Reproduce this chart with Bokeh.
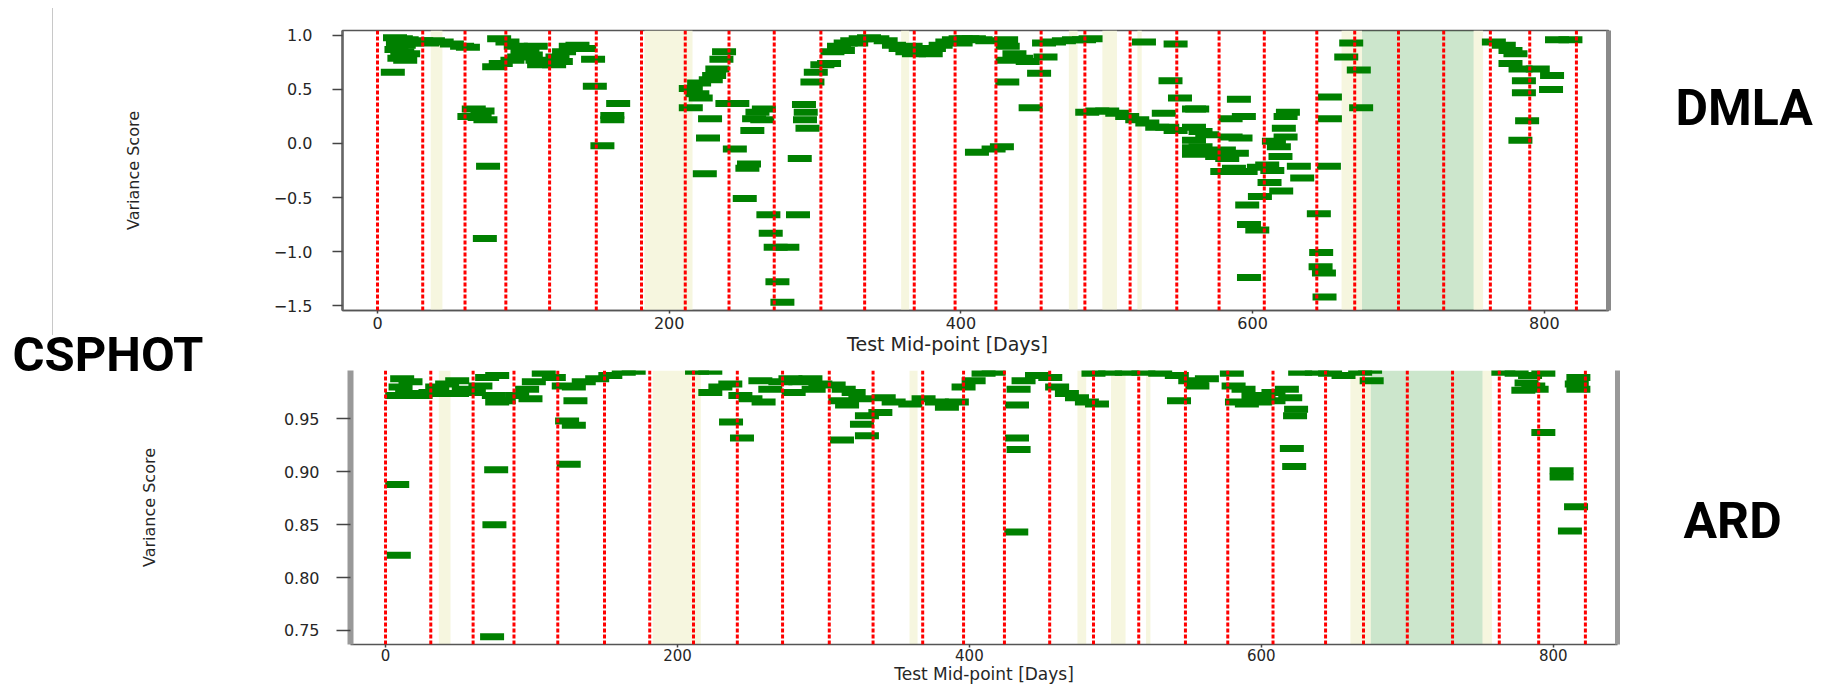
from bokeh.plotting import figure
from bokeh.layouts import column, row
from bokeh.models import (Span, BoxAnnotation, FixedTicker, LinearAxis, Spacer,
                          CustomJSTickFormatter, ColumnDataSource, Range1d)
from bokeh.core.properties import value
from bokeh.embed import file_html
from bokeh.resources import INLINE

# ---------------- data ----------------
x_ticks = [0, 200, 400, 600, 800]
dmla_ticks = [-1.5, -1.0, -0.5, 0.0, 0.5, 1.0]
ard_ticks = [0.75, 0.80, 0.85, 0.90, 0.95]

retrain_days = [0, 31, 60, 88, 118, 150, 181, 211, 241, 272, 304, 334, 368, 396,
                424, 455, 485, 516, 548, 577, 608, 644, 670, 700, 731, 763, 790, 822]
beige_start = [36.5, 183, 359, 474, 497, 521, 661, 751.5]
beige_end = [44.5, 216, 364.5, 480, 507, 524, 675, 758]
green_start = [675]
green_end = [751.5]

dmla_day = [
    12, 16, 20, 14, 18, 13, 17, 21, 15, 19, 22, 10.5,
    30, 34, 38, 44, 51, 58, 62,
    66, 72, 63, 74, 70, 75.8, 73.6,
    83.4, 89.1, 94.8, 99.4, 105.1, 109.7, 114.2, 80, 84.5, 92.5, 97.1, 102.8, 108.5,
    110.8, 118.8, 123.4, 127.9, 132.5, 137.1, 141.7, 125.7, 121.1,
    147.8, 149, 165, 161, 161, 154.2,
    237.6, 235.8, 233, 230.8, 228.5, 220.5, 214.8, 219.3, 221.6, 214.8, 239.9, 246.7,
    228, 226.6, 224.4, 245, 253.6, 251.8, 254.7, 260.5, 258.2, 257,
    268, 288.3, 269.6, 273, 281, 274.2, 277.6, 264.9, 263.8, 289.5, 292.4, 293.6,
    293.1, 294.8, 298.2, 300.5, 305, 309.6,
    311.9, 316.4, 321, 325.5, 331.3, 337, 342.7, 348.4, 354.1, 358.7, 363.3, 367.8,
    372.4, 377, 381.5, 386.1, 390.7, 395.2, 399.8, 404.4, 408.9, 413.5, 418.1,
    319.1, 328.2, 365.5, 379.3, 399.8,
    411, 422.4, 428.1, 431.8, 431, 432.1, 436.7, 441.3, 445.8, 432, 453.6, 447.8, 458,
    457, 463.8, 470.6, 477.5, 484.4, 488.9,
    486.6, 493.5, 500.3, 507.2, 514, 520.9, 527.8, 534.6, 541.5, 547.2, 539.1,
    525.5, 547.2, 543.7, 550.2, 559.8, 559.8, 559.8,
    590.6, 562, 624.2, 622.6, 584.9, 594,
    559.8, 564.3, 568.9, 559.8, 564.3, 573.5, 580.3, 584.9, 591.7, 589.2, 582.6, 575.7,
    621.4, 622.6, 614.6, 618, 619.1,
    579.2, 587.2, 595.2, 604.3, 613.5, 610,
    631.7, 652.3, 634, 611.6, 619.6, 605, 596.3, 597.5, 603.2, 597.5,
    645.4, 647, 646.6, 648.9, 649.3,
    653, 653, 667.6, 664.2, 672.8, 674.4,
    765.4, 772.2, 776.8, 780.2, 776.8, 783.7, 795.5, 805.3, 786, 804.6, 786, 788.2,
    783.6, 808.7, 817.9,
]
dmla_score = [
    0.98, 0.97, 0.96, 0.93, 0.91, 0.87, 0.85, 0.83, 0.79, 0.77, 0.93, 0.66,
    0.95, 0.93, 0.95, 0.94, 0.92, 0.90, 0.89,
    0.32, 0.30, 0.25, 0.22, 0.24, -0.21, -0.88,
    0.97, 0.94, 0.90, 0.85, 0.82, 0.77, 0.74, 0.71, 0.74, 0.77, 0.80, 0.86, 0.90,
    0.73, 0.76, 0.80, 0.85, 0.90, 0.91, 0.88, 0.76, 0.73,
    0.78, 0.53, 0.37, 0.26, 0.22, -0.02,
    0.85, 0.78, 0.69, 0.63, 0.59, 0.56, 0.51, 0.46, 0.42, 0.33, 0.37, 0.37,
    0.23, 0.05, -0.28, -0.05, -0.23, -0.51, -0.19, 0.29, 0.23, 0.12,
    -0.66, -0.66, -0.83, -0.96, -0.96, -1.28, -1.47, 0.32, 0.22, -0.14, 0.36, 0.29,
    0.22, 0.14, 0.57, 0.66, 0.73, 0.74,
    0.85, 0.90, 0.93, 0.95, 0.97, 0.98, 0.97, 0.95, 0.91, 0.88, 0.85, 0.83,
    0.84, 0.86, 0.88, 0.91, 0.94, 0.96, 0.97, 0.97, 0.97, 0.96, 0.95,
    0.86, 0.93, 0.90, 0.83, 0.93,
    -0.08, -0.05, -0.03, 0.57, 0.96, 0.90, 0.83, 0.79, 0.76, 0.77, 0.65, 0.33, 0.80,
    0.93, 0.94, 0.95, 0.96, 0.96, 0.97,
    0.29, 0.30, 0.30, 0.28, 0.25, 0.22, 0.19, 0.15, 0.15, 0.12, 0.28,
    0.94, 0.92, 0.58, 0.42, 0.32, -0.04, -0.10,
    0.41, 0.32, 0.29, 0.25, 0.23, 0.25,
    0.15, 0.11, 0.08, 0.03, -0.03, -0.08, -0.06, 0.06, 0.05, -0.09, -0.14, -0.12,
    0.14, 0.06, 0.02, -0.03, -0.12,
    -0.26, -0.23, -0.26, -0.22, -0.25, -0.20,
    -0.21, -0.21, -0.32, -0.36, -0.44, -0.49, -0.57, -0.75, -0.80, -1.24,
    -0.65, -1.01, -1.14, -1.20, -1.42,
    0.43, 0.23, 0.93, 0.80, 0.68, 0.33,
    0.94, 0.91, 0.86, 0.83, 0.74, 0.69, 0.69, 0.63, 0.58, 0.50, 0.47, 0.21,
    0.03, 0.96, 0.96,
]

ard_day = [
    11.4, 17.1, 10.3, 14.8, 8, 24, 30.8, 35.4, 42.2, 49.1, 53.6, 60.5, 65, 69.6, 76.5, 49, 40,
    74.2, 81, 90.2, 97, 101.6, 99.3, 76.5,
    108.4, 115.3, 122.1, 129, 135.8, 145, 154, 163.2, 170,
    130.1, 124.4, 129, 125.5, 75.8, 8, 74.6, 9.1, 73,
    213.4, 222.5, 222.5, 229.4, 236.2, 243.1, 250, 256.8, 259, 236.7, 244.2,
    263.6, 270.5, 277.4, 284.2, 291.1, 297.9, 293.3, 279.6,
    307, 313.9, 320.7, 311.6, 316.2, 325.3, 339, 329.8, 326.4, 329.8, 312.7,
    341.3, 348.1, 359.5, 368.6, 377.7, 384.6, 391.4,
    396, 402.9, 409.7, 416.6, 433.7, 432.6, 437.1, 446.3, 455.4,
    460.1, 466.8, 473.7, 480.5, 487.4, 432.6, 433.7, 432.1,
    485, 496.4, 507.8, 519.2, 530.7, 542.1, 551.3, 543.6, 556.2,
    555.8, 562.7, 579.8, 581, 587.8, 594.6, 601.5, 608.3, 617.5, 619.8, 583.3, 590.1,
    599.2, 608.3, 623.8, 623.1, 620.9, 622.5,
    626.6, 638, 647.1, 656.3, 667.7, 674.5, 675.6,
    765.8, 774.9, 784.1, 793.2, 786.3, 779.5, 788.6, 781.7, 793.2, 805.7, 805.7,
    817.2, 817.2, 816.1, 815.6, 811.4,
]
ard_score = [
    0.988, 0.985, 0.980, 0.974, 0.972, 0.972, 0.975, 0.980, 0.983, 0.986, 0.978, 0.975,
    0.981, 0.989, 0.991, 0.974, 0.974,
    0.972, 0.967, 0.972, 0.978, 0.985, 0.969, 0.966,
    0.993, 0.989, 0.981, 0.980, 0.985, 0.988, 0.991, 0.994, 0.995,
    0.967, 0.948, 0.944, 0.907, 0.902, 0.888, 0.850, 0.821, 0.744,
    0.995, 0.995, 0.975, 0.980, 0.983, 0.972, 0.969, 0.986, 0.966, 0.947, 0.932,
    0.978, 0.985, 0.988, 0.985, 0.988, 0.983, 0.978, 0.975,
    0.982, 0.978, 0.975, 0.967, 0.963, 0.969, 0.956, 0.953, 0.945, 0.934, 0.930,
    0.970, 0.966, 0.964, 0.969, 0.966, 0.961, 0.966,
    0.980, 0.986, 0.993, 0.994, 0.978, 0.963, 0.986, 0.991, 0.989,
    0.980, 0.974, 0.970, 0.966, 0.964, 0.932, 0.921, 0.843,
    0.993, 0.994, 0.994, 0.994, 0.993, 0.991, 0.986, 0.967, 0.981,
    0.985, 0.988, 0.993, 0.981, 0.978, 0.972, 0.969, 0.975, 0.978, 0.970, 0.966, 0.964,
    0.966, 0.967, 0.959, 0.953, 0.922, 0.905,
    0.994, 0.994, 0.993, 0.991, 0.994, 0.996, 0.986,
    0.994, 0.993, 0.991, 0.993, 0.981, 0.977, 0.978, 0.984, 0.937, 0.901, 0.895,
    0.989, 0.978, 0.983, 0.867, 0.844,
]

panel_names = ["DMLA", "ARD"]
panel_name_pos = [0.328, 0.8535]
left_name = "CSPHOT"
x_title = "Test Mid-point [Days]"
y_title = "Variance Score"

FONT = "DejaVu Sans"
TXT = "#262626"
W = 1825


def style_common(p):
    p.xgrid.visible = False
    p.ygrid.visible = False
    p.background_fill_color = "white"
    p.xaxis.ticker = FixedTicker(ticks=x_ticks)
    p.axis.minor_tick_line_color = None
    p.axis.major_label_text_font = FONT
    p.axis.major_label_text_font_size = "16px"
    p.axis.major_label_text_color = TXT
    p.axis.major_tick_line_color = "#444444"
    p.axis.major_tick_line_width = 1.5
    p.axis.major_tick_in = 0
    p.xaxis.major_tick_out = 3
    p.yaxis.axis_label = y_title
    p.yaxis.axis_label_text_font = FONT
    p.yaxis.axis_label_text_font_size = "16px"
    p.yaxis.axis_label_text_font_style = "normal"
    p.yaxis.axis_label_text_color = TXT
    for a, b in zip(beige_start, beige_end):
        p.add_layout(BoxAnnotation(left=a, right=b, fill_color="#f5f5dc", fill_alpha=0.9,
                                   line_color=None, level="underlay"))
    for a, b in zip(green_start, green_end):
        p.add_layout(BoxAnnotation(left=a, right=b, fill_color="green", fill_alpha=0.2,
                                   line_color=None, level="underlay"))


def add_data(p, xs, ys):
    src = ColumnDataSource(dict(x=xs, y=ys))
    p.rect("x", "y", width=24, height=7, width_units="screen", height_units="screen",
           source=src, fill_color="green", line_color=None)
    for d in retrain_days:
        p.add_layout(Span(location=d, dimension="height", line_color="red",
                          line_width=3, line_dash="4 2"))


def name_axis(p, name, pos, standoff, line_color):
    ax = LinearAxis(ticker=FixedTicker(ticks=[pos]),
                    formatter=CustomJSTickFormatter(code="return '%s';" % name),
                    axis_line_color=line_color, axis_line_width=5,
                    major_tick_line_color=None, minor_tick_line_color=None,
                    major_tick_out=0, major_tick_in=0,
                    major_label_standoff=standoff, major_label_text_font="Roboto",
                    major_label_text_font_size="50px", major_label_text_font_style="bold",
                    major_label_text_color="black")
    p.add_layout(ax, "right")


# ---------------- top panel (DMLA) ----------------
top = figure(width=W - 53, height=335, x_range=Range1d(-24, 844), y_range=Range1d(-1.546, 1.046),
             output_backend="svg", toolbar_location=None,
             min_border_left=289, min_border_right=W - 1608, min_border_top=30,
             min_border_bottom=25)
style_common(top)
top.yaxis.ticker = FixedTicker(ticks=dmla_ticks)
top.yaxis.formatter = CustomJSTickFormatter(
    code="return (tick < 0 ? '\\u2212' : '') + Math.abs(tick).toFixed(1);")
top.yaxis.major_tick_out = 10
top.yaxis.major_label_standoff = 20
top.yaxis.axis_label_standoff = 128
top.xaxis.major_label_standoff = 3
top.outline_line_color = "#555555"
top.outline_line_width = 1.5
top.yaxis.axis_line_color = "#666666"
top.yaxis.axis_line_width = 2.5
top.xaxis.axis_line_color = "#555555"
top.xaxis.axis_line_width = 1.5
add_data(top, dmla_day, dmla_score)
name_axis(top, panel_names[0], panel_name_pos[0], 67, "#8a8a8a")

edge = Spacer(width=53, height=335, styles={
    "background": "linear-gradient(#c8c8c8, #c8c8c8) right bottom / 1px 327px no-repeat"})

# ---------------- transparent strip between the panels (overlaps both) ----------------
SH = 61
strip = figure(width=W, height=SH, x_range=Range1d(0, W), y_range=Range1d(0, SH),
               output_backend="svg", toolbar_location=None, min_border=0,
               x_axis_location=None, y_axis_location=None)
strip.outline_line_color = None
strip.background_fill_alpha = 0
strip.border_fill_alpha = 0
strip.xgrid.visible = False
strip.ygrid.visible = False
strip.text(x=[12], y=[29], text=[left_name], text_font=value("Roboto"), text_font_size="49px",
           text_font_style="bold", text_color="black", text_baseline="alphabetic",
           text_align="left")
strip.text(x=[947], y=[39.5], text=[x_title], text_font=value(FONT), text_font_size="19px",
           text_color=TXT, text_baseline="alphabetic", text_align="center")

# ---------------- bottom panel (ARD) ----------------
bot = figure(width=W, height=316, x_range=Range1d(-24, 844), y_range=Range1d(0.7367, 0.9957),
             output_backend="svg", toolbar_location=None,
             min_border_left=350, min_border_right=W - 1617, min_border_top=0,
             min_border_bottom=42)
style_common(bot)
bot.border_fill_alpha = 0
bot.yaxis.ticker = FixedTicker(ticks=ard_ticks)
bot.yaxis.formatter = CustomJSTickFormatter(code="return tick.toFixed(2);")
bot.yaxis.major_tick_out = 14
bot.yaxis.major_label_standoff = 17
bot.yaxis.axis_label_standoff = 122
bot.xaxis.major_label_standoff = 1
bot.xaxis.major_label_text_font_size = "15px"
bot.xaxis.axis_label = x_title
bot.xaxis.axis_label_standoff = 0
bot.xaxis.axis_label_text_font = FONT
bot.xaxis.axis_label_text_font_size = "17px"
bot.xaxis.axis_label_text_font_style = "normal"
bot.xaxis.axis_label_text_color = TXT
bot.outline_line_color = None
bot.yaxis.axis_line_color = "#999999"
bot.yaxis.axis_line_width = 6
bot.xaxis.axis_line_color = "#555555"
bot.xaxis.axis_line_width = 1.5
add_data(bot, ard_day, ard_score)
name_axis(bot, panel_names[1], panel_name_pos[1], 66, "#999999")

layout = column(row(edge, top),
                row(strip, margin=(-13, 0, 0, 0)),
                row(bot, margin=(-13, 0, 0, 0)))
open("out.html", "w").write(file_html(layout, INLINE))
